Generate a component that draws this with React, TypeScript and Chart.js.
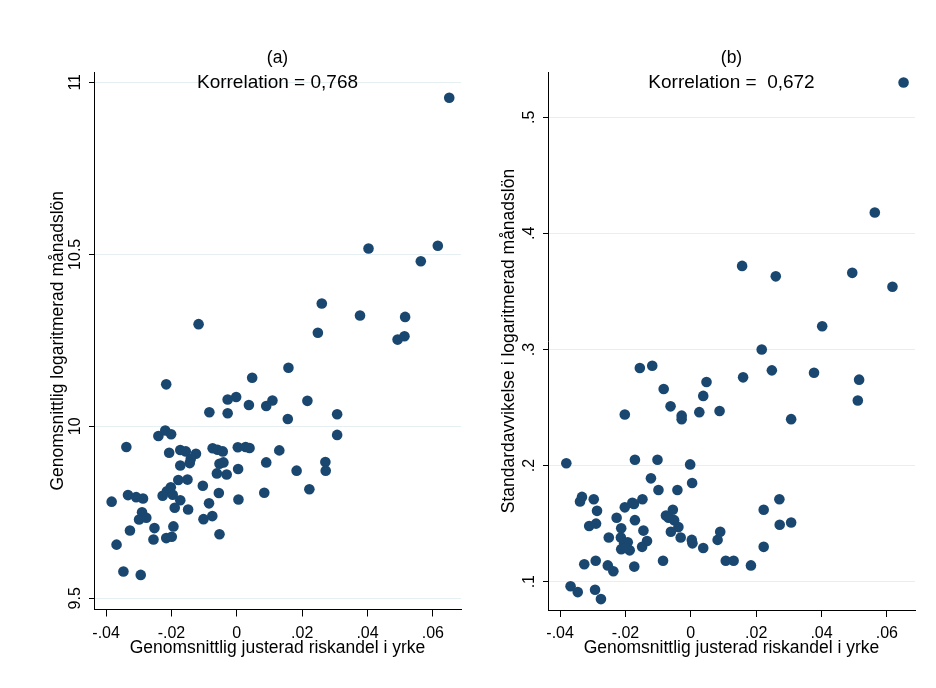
import React, { useEffect, useRef } from "react";
import { Chart, registerables } from "chart.js";

Chart.register(...registerables);

// ---------- data ----------
const xTickValues = [-0.04, -0.02, 0, 0.02, 0.04, 0.06];
const xTickLabels = ["-.04", "-.02", "0", ".02", ".04", ".06"];

const aYTickValues = [9.5, 10, 10.5, 11];
const aYTickLabels = ["9.5", "10", "10.5", "11"];

const bYTickValues = [0.1, 0.2, 0.3, 0.4, 0.5];
const bYTickLabels = [".1", ".2", ".3", ".4", ".5"];

const xAxisTitle = "Genomsnittlig justerad riskandel i yrke";
const aYAxisTitle = "Genomsnittlig logaritmerad månadslön";
const bYAxisTitle = "Standardavvikelse i logaritmerad månadslön";
const aTitle = "(a)";
const bTitle = "(b)";
const aNote = "Korrelation = 0,768";
const bNote = "Korrelation =  0,672";

const aX = [
  0.026, 0.0377, 0.0515, -0.0117, 0.0248, 0.0492, 0.0513, 0.0158, -0.0216, 0.0047,
  -0.0028, -0.0002, 0.0037, 0.009, 0.0109, 0.0216, -0.0084, -0.0028, 0.0156, 0.0307,
  0.0307, -0.024, -0.0219, -0.0201, -0.0338, -0.0207, -0.0173, -0.0156, -0.0125, -0.0141,
  -0.0173, -0.0144, -0.0074, -0.0059, -0.0043, 0.0003, 0.0027, 0.0039, 0.013, -0.0053,
  -0.0041, 0.0004, -0.0061, -0.0031, 0.009, 0.0183, 0.0271, 0.0272, -0.0179, -0.0151,
  -0.0104, -0.0202, -0.0214, -0.0227, -0.0196, -0.0055, 0.0084, 0.0222, 0.0005, -0.0173,
  -0.0085, -0.019, -0.0149, -0.0383, -0.0333, -0.0308, -0.0287, -0.029, -0.0299, -0.0277,
  -0.0102, -0.0075, -0.0252, -0.0194, -0.0327, -0.0255, -0.0216, -0.0199, -0.0053, -0.0368,
  -0.0347, -0.0294, 0.065, 0.0403, 0.0615, 0.0563,
];
const aY = [
  10.357, 10.322, 10.318, 10.297, 10.272, 10.252, 10.262, 10.17, 10.122, 10.141,
  10.078, 10.085, 10.062, 10.059, 10.075, 10.074, 10.041, 10.038, 10.021, 10.035,
  9.975, 9.972, 9.988, 9.977, 9.94, 9.923, 9.931, 9.927, 9.92, 9.905,
  9.886, 9.893, 9.936, 9.932, 9.927, 9.939, 9.94, 9.937, 9.93, 9.891,
  9.895, 9.876, 9.863, 9.86, 9.895, 9.871, 9.896, 9.871, 9.844, 9.845,
  9.827, 9.823, 9.811, 9.798, 9.801, 9.806, 9.807, 9.817, 9.787, 9.785,
  9.776, 9.763, 9.758, 9.781, 9.8, 9.794, 9.79, 9.75, 9.729, 9.734,
  9.73, 9.739, 9.704, 9.709, 9.697, 9.671, 9.675, 9.679, 9.686, 9.656,
  9.578, 9.568, 10.955, 10.517, 10.525, 10.48,
];

const bX = [
  0.0402, 0.0217, -0.0118, -0.0156, 0.0248, 0.0377, 0.016, 0.0515, 0.0048, -0.0083,
  0.0038, 0.0511, -0.0062, 0.0088, 0.0026, -0.0202, -0.0028, -0.0028, 0.0307, -0.0381,
  -0.0171, -0.0102, -0.0002, -0.0122, 0.0004, -0.0099, -0.0041, -0.0333, -0.0339, -0.0297,
  -0.0148, -0.0179, -0.0174, -0.0202, 0.0271, -0.0287, -0.0055, 0.0223, -0.0227, -0.0171,
  -0.0076, -0.0068, -0.0311, -0.029, -0.0213, -0.0051, -0.0145, -0.0038, -0.0061, 0.009,
  0.0307, 0.0272, -0.0251, -0.0214, -0.0193, -0.0204, -0.0134, -0.0031, 0.0003, 0.0005,
  0.0082, -0.0213, -0.0187, -0.0199, -0.0149, 0.0038, 0.0223, -0.0291, -0.0085, 0.0107,
  0.0131, -0.0326, -0.0254, -0.0237, -0.0173, 0.0184, -0.0368, -0.0346, -0.0293, -0.0275,
  0.0651, 0.0563, 0.0157, 0.026, 0.0494, 0.0617,
];
const bY = [
  0.32, 0.3, 0.286, 0.284, 0.282, 0.28, 0.276, 0.274, 0.272, 0.266,
  0.26, 0.256, 0.251, 0.247, 0.246, 0.244, 0.243, 0.24, 0.24, 0.202,
  0.205, 0.205, 0.201, 0.189, 0.185, 0.179, 0.179, 0.173, 0.169, 0.171,
  0.171, 0.168, 0.167, 0.164, 0.171, 0.161, 0.162, 0.162, 0.155, 0.153,
  0.157, 0.155, 0.148, 0.15, 0.146, 0.153, 0.144, 0.147, 0.143, 0.143,
  0.151, 0.149, 0.138, 0.138, 0.134, 0.133, 0.135, 0.138, 0.136, 0.133,
  0.136, 0.128, 0.127, 0.129, 0.13, 0.129, 0.13, 0.118, 0.118, 0.118,
  0.118, 0.115, 0.114, 0.109, 0.113, 0.114, 0.096, 0.091, 0.093, 0.085,
  0.53, 0.418, 0.372, 0.363, 0.366, 0.354,
];

// ---------- styling ----------
const NAVY = "#1a476f";
const GRID = "#e6eff1";
const INK = "#000000";
const FAMILY = '"Liberation Sans", Arial, sans-serif';

const labelFor = (values: number[], labels: string[]) => (v: number | string) => {
  const n = Number(v);
  const i = values.findIndex((t) => Math.abs(t - n) < 1e-9);
  return i >= 0 ? labels[i] : "";
};

const headerPlugin = {
  id: "header",
  afterDraw(chart: any, _args: any, opts: any) {
    const { ctx, chartArea } = chart;
    const cx = (chartArea.left + chartArea.right) / 2;
    ctx.save();
    ctx.fillStyle = INK;
    ctx.textAlign = "center";
    ctx.textBaseline = "middle";
    ctx.font = `17.5px ${FAMILY}`;
    ctx.fillText(opts.title, cx, chartArea.top + opts.titleDy);
    ctx.font = `19px ${FAMILY}`;
    ctx.fillText(opts.note, cx, chartArea.top + opts.noteDy);
    ctx.restore();
  },
};

type Panel = {
  xs: number[];
  ys: number[];
  yMin: number;
  yMax: number;
  yTicks: number[];
  yLabels: string[];
  yTitle: string;
  title: string;
  note: string;
  yAxisW: number;
  yTitlePad: number;
  yTickPad: number;
  padRight: number;
  xAxisH: number;
  padBottom: number;
};

function buildConfig(p: Panel): any {
  return {
    type: "scatter",
    data: {
      datasets: [
        {
          data: p.xs.map((x, i) => ({ x, y: p.ys[i] })),
          backgroundColor: NAVY,
          borderColor: NAVY,
          borderWidth: 0,
          pointRadius: 5.3,
          pointHoverRadius: 5.3,
        },
      ],
    },
    options: {
      responsive: false,
      animation: false,
      events: [],
      layout: { padding: { top: 72, right: p.padRight, bottom: p.padBottom, left: 0 } },
      plugins: {
        legend: { display: false },
        tooltip: { enabled: false },
        header: { title: p.title, note: p.note, titleDy: -13.4, noteDy: 11 },
      },
      scales: {
        x: {
          type: "linear",
          position: "bottom",
          min: -0.0437,
          max: 0.0686,
          afterBuildTicks: (s: any) => {
            s.ticks = xTickValues.map((v) => ({ value: v }));
          },
          afterFit: (s: any) => {
            s.height = p.xAxisH;
          },
          ticks: {
            callback: labelFor(xTickValues, xTickLabels),
            font: { family: FAMILY, size: 16 },
            color: INK,
            padding: 7,
            maxRotation: 0,
            minRotation: 0,
            autoSkip: false,
          },
          grid: {
            drawOnChartArea: false,
            drawTicks: true,
            tickLength: 7,
            tickColor: INK,
            lineWidth: 1,
          },
          border: { display: true, color: INK, width: 1 },
          title: {
            display: true,
            text: xAxisTitle,
            font: { family: FAMILY, size: 17.5 },
            color: INK,
            padding: { top: 0, bottom: 0 },
          },
        },
        y: {
          type: "linear",
          position: "left",
          min: p.yMin,
          max: p.yMax,
          afterBuildTicks: (s: any) => {
            s.ticks = p.yTicks.map((v) => ({ value: v }));
          },
          afterFit: (s: any) => {
            s.width = p.yAxisW;
          },
          ticks: {
            callback: labelFor(p.yTicks, p.yLabels),
            font: { family: FAMILY, size: 16 },
            color: INK,
            padding: p.yTickPad,
            minRotation: 90,
            maxRotation: 90,
            crossAlign: "center",
            autoSkip: false,
          },
          grid: {
            color: GRID,
            lineWidth: 1,
            drawTicks: true,
            tickLength: 5,
            tickColor: INK,
          },
          border: { display: true, color: INK, width: 1 },
          title: {
            display: true,
            text: p.yTitle,
            font: { family: FAMILY, size: 17.5 },
            color: INK,
            padding: { top: p.yTitlePad, bottom: 0 },
          },
        },
      },
    },
    plugins: [headerPlugin],
  };
}

const panelA: Panel = {
  xs: aX,
  ys: aY,
  yMin: 9.4674,
  yMax: 11.03,
  yTicks: aYTickValues,
  yLabels: aYTickLabels,
  yTitle: aYAxisTitle,
  title: aTitle,
  note: aNote,
  yAxisW: 94,
  yTitlePad: 48,
  yTickPad: -2,
  padRight: 7,
  xAxisH: 49.5,
  padBottom: 29,
};

const panelB: Panel = {
  xs: bX,
  ys: bY,
  yMin: 0.0756,
  yMax: 0.539,
  yTicks: bYTickValues,
  yLabels: bYTickLabels,
  yTitle: bYAxisTitle,
  title: bTitle,
  note: bNote,
  yAxisW: 80,
  yTitlePad: 30.5,
  yTickPad: 6.3,
  padRight: 21,
  xAxisH: 49,
  padBottom: 29,
};

function ScatterPanel({ panel, left }: { panel: Panel; left: number }) {
  const ref = useRef<HTMLCanvasElement | null>(null);
  useEffect(() => {
    if (!ref.current) return;
    const chart = new Chart(ref.current, buildConfig(panel));
    return () => chart.destroy();
  }, [panel]);
  return (
    <canvas
      ref={ref}
      width={468}
      height={688}
      style={{ position: "absolute", left, top: 0, width: 468, height: 688 }}
    />
  );
}

export default function App() {
  return (
    <div
      style={{
        position: "absolute",
        left: 0,
        top: 0,
        width: 936,
        height: 688,
        background: "#ffffff",
        overflow: "hidden",
      }}
    >
      <ScatterPanel panel={panelA} left={0} />
      <ScatterPanel panel={panelB} left={468} />
    </div>
  );
}
